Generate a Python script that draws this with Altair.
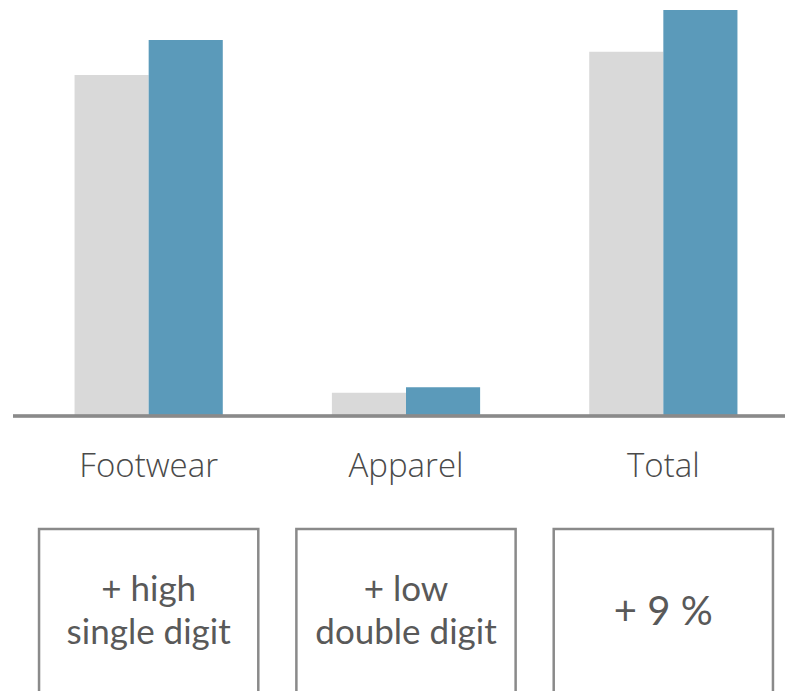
import altair as alt
import pandas as pd

categories = ["Footwear", "Apparel", "Total"]
series = ["Prior year", "Current year"]
prior_values = [84.0, 5.7, 89.7]
current_values = [92.6, 7.1, 100.0]
notes = [["+ high", "single digit"], ["+ low", "double digit"], ["+ 9 %"]]

bars_df = pd.DataFrame(
    [{"category": c, "series": series[0], "value": v} for c, v in zip(categories, prior_values)]
    + [{"category": c, "series": series[1], "value": v} for c, v in zip(categories, current_values)]
)
notes_df = pd.DataFrame({"category": categories, "note": notes,
                         "lines": [len(n) for n in notes]})

W, H = 772, 681
ZERO_PX = 406

xscale = alt.Scale(domain=categories, range=[7, 779], paddingInner=0, paddingOuter=0)
yscale = alt.Scale(domain=[0, 100], range=[ZERO_PX, 0], nice=False, zero=True)

bars = alt.Chart(bars_df).mark_bar().encode(
    x=alt.X("category:N", scale=xscale, sort=categories,
            axis=alt.Axis(title=None, domain=False, ticks=False, labelAngle=0,
                          labelPadding=34, offset=-(H - ZERO_PX), labelFont="Open Sans",
                          labelFontWeight=300, labelFontSize=33, labelColor="#4a4a4a")),
    xOffset=alt.XOffset("series:N", sort=series,
                        scale=alt.Scale(domain=series, paddingInner=0, paddingOuter=0.736)),
    y=alt.Y("value:Q", scale=yscale, axis=None),
    color=alt.Color("series:N", scale=alt.Scale(domain=series, range=["#d9d9d9", "#5b9aba"]),
                    legend=None),
)

baseline = alt.Chart(bars_df).mark_rule(color="#8a8a8a", strokeWidth=2.5).encode(
    x=alt.value(0), x2=alt.value(W), y=alt.datum(0, scale=yscale)
)

boxes = alt.Chart(notes_df).mark_bar(
    fill="white", stroke="#8a8a8a", strokeWidth=2.5, clip=True,
    width=alt.RelativeBandSize(0.852)
).encode(
    x=alt.X("category:N", scale=xscale, sort=categories),
    y=alt.value(519), y2=alt.value(H + 20),
)

text2 = alt.Chart(notes_df).transform_filter("datum.lines > 1").mark_text(
    font="Lato", fontSize=35, color="#595959", lineHeight=43, baseline="middle"
).encode(
    x=alt.X("category:N", scale=xscale, sort=categories),
    y=alt.value(580),
    text="note",
)

text1 = alt.Chart(notes_df).transform_filter("datum.lines == 1").mark_text(
    font="Lato", fontSize=40, color="#595959", baseline="middle"
).encode(
    x=alt.X("category:N", scale=xscale, sort=categories),
    y=alt.value(603),
    text="note",
)

chart = alt.layer(bars, baseline, boxes, text2, text1).properties(
    width=W, height=H,
    autosize=alt.AutoSizeParams(type="none"),
    padding={"left": 13, "top": 10, "right": 0, "bottom": 0},
).configure_view(stroke=None)

chart.save("out.html", embed_options={"renderer": "svg", "actions": False})
